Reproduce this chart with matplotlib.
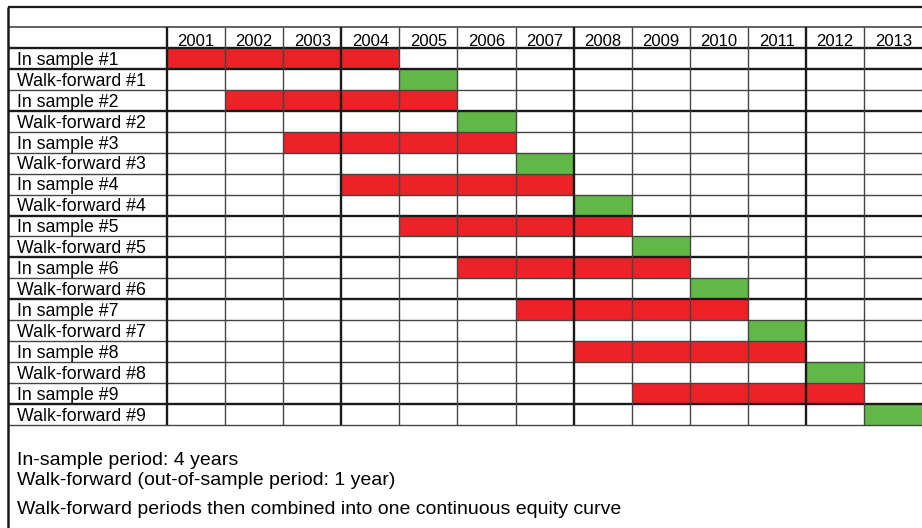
import matplotlib.pyplot as plt

plt.rcParams['font.family'] = ['Liberation Sans', 'DejaVu Sans']

YEARS = [2001, 2002, 2003, 2004, 2005, 2006, 2007, 2008, 2009, 2010, 2011, 2012, 2013]
ROW_LABELS = [
    "In sample #1", "Walk-forward #1",
    "In sample #2", "Walk-forward #2",
    "In sample #3", "Walk-forward #3",
    "In sample #4", "Walk-forward #4",
    "In sample #5", "Walk-forward #5",
    "In sample #6", "Walk-forward #6",
    "In sample #7", "Walk-forward #7",
    "In sample #8", "Walk-forward #8",
    "In sample #9", "Walk-forward #9",
]
IS_START = [2001, 2002, 2003, 2004, 2005, 2006, 2007, 2008, 2009]
IS_YEARS = [4, 4, 4, 4, 4, 4, 4, 4, 4]
WF_START = [2005, 2006, 2007, 2008, 2009, 2010, 2011, 2012, 2013]
WF_YEARS = [1, 1, 1, 1, 1, 1, 1, 1, 1]
NOTES = [
    "In-sample period: 4 years",
    "Walk-forward (out-of-sample period: 1 year)",
    "Walk-forward periods then combined into one continuous equity curve",
]

RED = '#ec2228'
GREEN = '#62b847'
DARK = '#1a1a1a'
MID = '#444444'

# layout: one data unit = one year column (58.1 px) / one row (20.94 px)
LABEL_W = 2.74
THICK_ROWS = [0, 1, 3, 8, 10, 12, 17]
THICK_COLS = [0, 3, 7, 11]


def main():
    fig, ax = plt.subplots(figsize=(9.22, 5.28), dpi=100)
    ax.set_position([0, 0, 1, 1])
    ax.set_xlim(-2.874, 12.995)
    ax.set_ylim(22.92, -2.292)
    ax.axis('off')

    n_rows = len(ROW_LABELS)
    n_cols = len(YEARS)

    is_rows = [2 * i + 0.5 for i in range(len(IS_START))]
    wf_rows = [2 * i + 1.5 for i in range(len(WF_START))]
    ax.barh(is_rows, IS_YEARS, left=[s - YEARS[0] for s in IS_START],
            height=1, color=RED, zorder=1)
    ax.barh(wf_rows, WF_YEARS, left=[s - YEARS[0] for s in WF_START],
            height=1, color=GREEN, zorder=1)

    # grid lines
    for r in range(n_rows + 1):
        thick = r in THICK_ROWS
        ax.hlines(r, -LABEL_W, n_cols, color=DARK if thick else MID,
                  lw=1.7 if thick else 1.0, zorder=3)
    ax.hlines(-1, -LABEL_W, n_cols, color=MID, lw=1.2, zorder=3)
    for c in range(n_cols):
        thick = c in THICK_COLS
        ax.vlines(c, -1, n_rows, color=DARK if thick else MID,
                  lw=1.7 if thick else 1.0, zorder=3)

    # outer frame (top and left)
    ax.hlines(-1.96, -LABEL_W, n_cols, color=DARK, lw=1.6, zorder=4)
    ax.vlines(-LABEL_W, -1.96, 22.92, color=DARK, lw=1.8, zorder=4)

    for c, year in enumerate(YEARS):
        ax.text(c + 0.5, -0.1, str(year), ha='center', va='baseline',
                fontsize=12, color='black', zorder=5)
    for r, label in enumerate(ROW_LABELS):
        ax.text(-2.58, r + 0.8, label, ha='left', va='baseline',
                fontsize=12.8, color='black', zorder=5)

    ax.text(-2.58, 19.9, NOTES[0], ha='left', va='baseline', fontsize=14)
    ax.text(-2.58, 20.85, NOTES[1], ha='left', va='baseline', fontsize=14)
    ax.text(-2.58, 22.25, NOTES[2], ha='left', va='baseline', fontsize=14)

    plt.savefig("out.png", dpi=100)


if __name__ == "__main__":
    main()
